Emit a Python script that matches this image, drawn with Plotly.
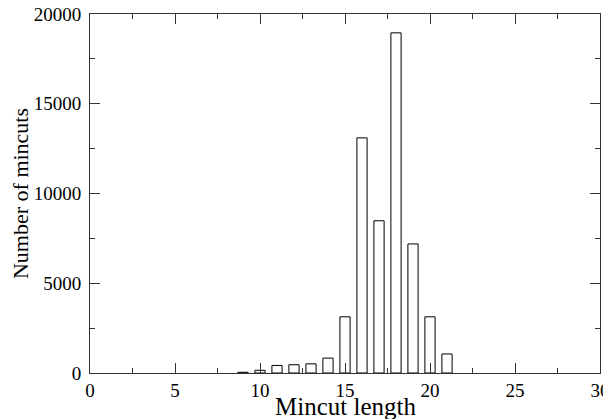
import plotly.graph_objects as go

lengths = [9, 10, 11, 12, 13, 14, 15, 16, 17, 18, 19, 20, 21]
counts = [40, 150, 420, 460, 510, 830, 3130, 13100, 8480, 18950, 7190, 3130, 1060]

x_ticks = [0, 5, 10, 15, 20, 25, 30]
x_tick_text = ["0", "5", "10", "15", "20", "25", "30"]
y_ticks = [0, 5000, 10000, 15000, 20000]
y_tick_text = ["0", "5000", "10000", "15000", "20000"]

fig = go.Figure(go.Bar(
    x=lengths, y=counts, width=0.6,
    marker=dict(color="rgba(255,255,255,0)", line=dict(color="black", width=1)),
))

font = dict(family="Liberation Serif, Times New Roman, serif", color="black")

# page body has an 8px margin, so the figure is offset by (8, 8) in the window
fig.update_layout(
    width=611, height=419,
    margin=dict(l=82, r=19, t=6, b=54),
    paper_bgcolor="white", plot_bgcolor="white",
    showlegend=False,
    font=dict(**font, size=18),
    annotations=[dict(
        text="Mincut length", xref="paper", yref="paper", x=0.5, y=0,
        xanchor="center", yanchor="middle", yshift=-33, showarrow=False,
        font=dict(**font, size=25),
    )],
)
fig.update_xaxes(
    range=[0, 30], tickvals=x_ticks, ticktext=x_tick_text, ticks="inside", ticklen=10, tickwidth=1,
    tickcolor="#333", showline=True, linecolor="#333", linewidth=1, mirror="ticks",
    showgrid=False, zeroline=False, automargin=False, ticklabelstandoff=0,
    ticklabeloverflow="allow",
    minor=dict(ticks="inside", ticklen=5, dtick=2.5, tick0=0, tickcolor="#333", showgrid=False),
    tickfont=dict(**font, size=19),
)
fig.update_yaxes(
    range=[0, 20000], tickvals=y_ticks, ticktext=y_tick_text, ticks="inside", ticklen=10, tickwidth=1,
    tickcolor="#333", showline=True, linecolor="#333", linewidth=1, mirror="ticks",
    showgrid=False, zeroline=False, automargin=False, ticklabelstandoff=4,
    ticklabeloverflow="allow",
    minor=dict(ticks="inside", ticklen=5, dtick=2500, tick0=0, tickcolor="#333", showgrid=False),
    tickfont=dict(**font, size=19),
    title=dict(text="Number of mincuts", font=dict(**font, size=22), standoff=0),
)

fig.write_html("out.html")
